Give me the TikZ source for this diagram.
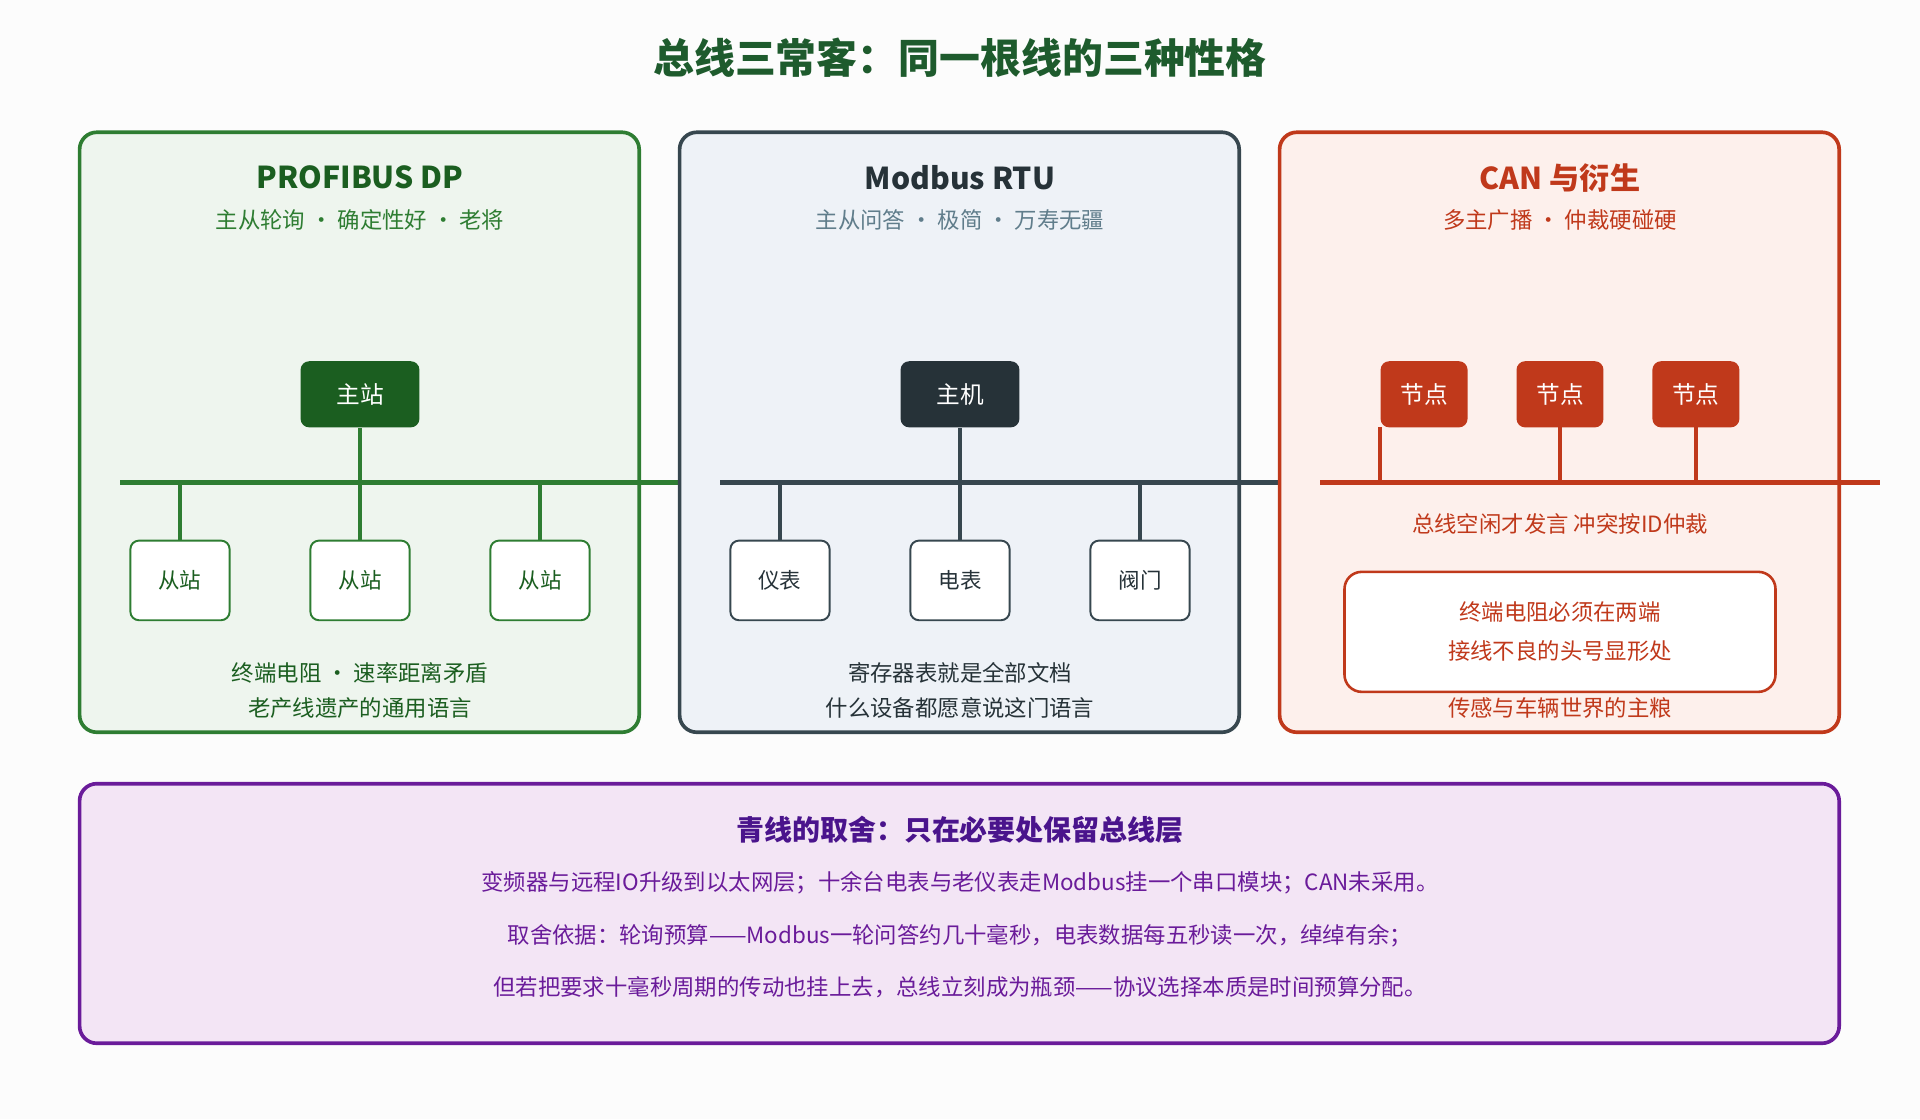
\documentclass[tikz,border=0pt]{standalone}
\usepackage{fontspec}
\setmainfont{Noto Sans CJK SC}
\usetikzlibrary{positioning}
\definecolor{gdark}{HTML}{1B5E20}
\definecolor{gline}{HTML}{2E7D32}
\definecolor{gfill}{HTML}{EEF5EE}
\definecolor{sdark}{HTML}{263238}
\definecolor{sline}{HTML}{37474F}
\definecolor{sfill}{HTML}{EEF2F7}
\definecolor{stext}{HTML}{607D8B}
\definecolor{oline}{HTML}{C0391B}
\definecolor{ofill}{HTML}{FDF0EC}
\definecolor{pline}{HTML}{6A1B9A}
\definecolor{pdark}{HTML}{4A148C}
\definecolor{pfill}{HTML}{F3E5F5}
\tikzset{
  panel/.style={draw=#1, line width=0.85pt, rounded corners=4pt},
  head/.style={font=\fontsize{7}{8}\selectfont\bfseries},
  sub/.style={font=\fontsize{5.2}{6}\selectfont},
  txt/.style={font=\fontsize{5.2}{8.2}\selectfont, align=center},
  master/.style={fill=#1, text=white, rounded corners=2pt, minimum width=0.97cm, minimum height=0.54cm, font=\fontsize{5.5}{6}\selectfont},
  slave/.style={draw=#1, fill=white, line width=0.45pt, rounded corners=2pt, minimum width=0.81cm, minimum height=0.65cm, font=\fontsize{5}{6}\selectfont},
  bus/.style={draw=#1, line width=1.1pt},
  tap/.style={draw=#1, line width=0.8pt}
}
\begin{document}
\begin{tikzpicture}[x=0.01cm,y=-0.01cm]
\fill[white!98!gray] (0,0) rectangle (1568,914);
\node[font=\fontsize{9.5}{10}\selectfont\bfseries, text=sdark!80!green] (title) at (784,47) {总线三常客：同一根线的三种性格};

% PROFIBUS
\draw[panel=gline, fill=gfill] (65,108) rectangle (522,598);
\node[head, text=gdark] (pbh) at (294,145) {PROFIBUS DP};
\node[sub, text=gline] (pbs) at (294,180) {主从轮询 · 确定性好 · 老将};
\node[master=gdark] (pbm) at (294,322) {主站};
\coordinate (pbl) at (98,394); \coordinate (pbr) at (555,394);
\draw[bus=gline] (pbl) -- (pbr);
\draw[tap=gline] (pbm.south) -- (294,394);
\foreach \x/\n in {147/a,294/b,441/c}{
  \node[slave=gline, text=gdark] (pb\n) at (\x,474) {从站};
  \draw[tap=gline] (\x,394) -- (pb\n.north);
}
\node[txt, text=gdark] (pbt) at (294,564) {终端电阻 · 速率距离矛盾\\老产线遗产的通用语言};

% Modbus
\draw[panel=sline, fill=sfill] (555,108) rectangle (1012,598);
\node[head, text=sdark] (mbh) at (784,145) {Modbus RTU};
\node[sub, text=stext] (mbs) at (784,180) {主从问答 · 极简 · 万寿无疆};
\node[master=sdark] (mbm) at (784,322) {主机};
\coordinate (mbl) at (588,394); \coordinate (mbr) at (1045,394);
\draw[bus=sline] (mbl) -- (mbr);
\draw[tap=sline] (mbm.south) -- (784,394);
\foreach \x/\n/\t in {637/a/仪表,784/b/电表,931/c/阀门}{
  \node[slave=sline, text=sdark] (mb\n) at (\x,474) {\t};
  \draw[tap=sline] (\x,394) -- (mb\n.north);
}
\node[txt, text=sdark] (mbt) at (784,564) {寄存器表就是全部文档\\什么设备都愿意说这门语言};

% CAN
\draw[panel=oline, fill=ofill] (1045,108) rectangle (1502,598);
\node[head, text=oline] (cah) at (1274,145) {CAN 与衍生};
\node[sub, text=oline] (cas) at (1274,180) {多主广播 · 仲裁硬碰硬};
\coordinate (cal) at (1078,394); \coordinate (car) at (1535,394);
\draw[bus=oline] (cal) -- (car);
\foreach \x/\n/\tx in {1163/a/1127,1274/b/1274,1385/c/1385}{
  \node[master=oline, minimum width=0.71cm] (ca\n) at (\x,322) {节点};
  \draw[tap=oline] (\tx,349) -- (\tx,394);
}
\node[txt, text=oline] (cat) at (1274,428) {总线空闲才发言 冲突按ID仲裁};
\draw[panel=oline, fill=white, line width=0.6pt] (1098,467) rectangle (1450,565);
\node[txt, text=oline, font=\fontsize{5.2}{9}\selectfont] (cab) at (1274,516) {终端电阻必须在两端\\接线不良的头号显形处};
\node[txt, text=oline] (cau) at (1274,578) {传感与车辆世界的主粮};

% summary
\draw[panel=pline, fill=pfill] (65,640) rectangle (1502,852);
\node[head, text=pdark, font=\fontsize{6.5}{8}\selectfont\bfseries] (sh) at (784,678) {青线的取舍：只在必要处保留总线层};
\node[txt, text=pline] (s1) at (784,721) {变频器与远程IO升级到以太网层；十余台电表与老仪表走Modbus挂一个串口模块；CAN未采用。};
\node[txt, text=pline] (s2) at (784,764) {取舍依据：轮询预算——Modbus一轮问答约几十毫秒，电表数据每五秒读一次，绰绰有余；};
\node[txt, text=pline] (s3) at (784,806) {但若把要求十毫秒周期的传动也挂上去，总线立刻成为瓶颈——协议选择本质是时间预算分配。};
\end{tikzpicture}
\end{document}
